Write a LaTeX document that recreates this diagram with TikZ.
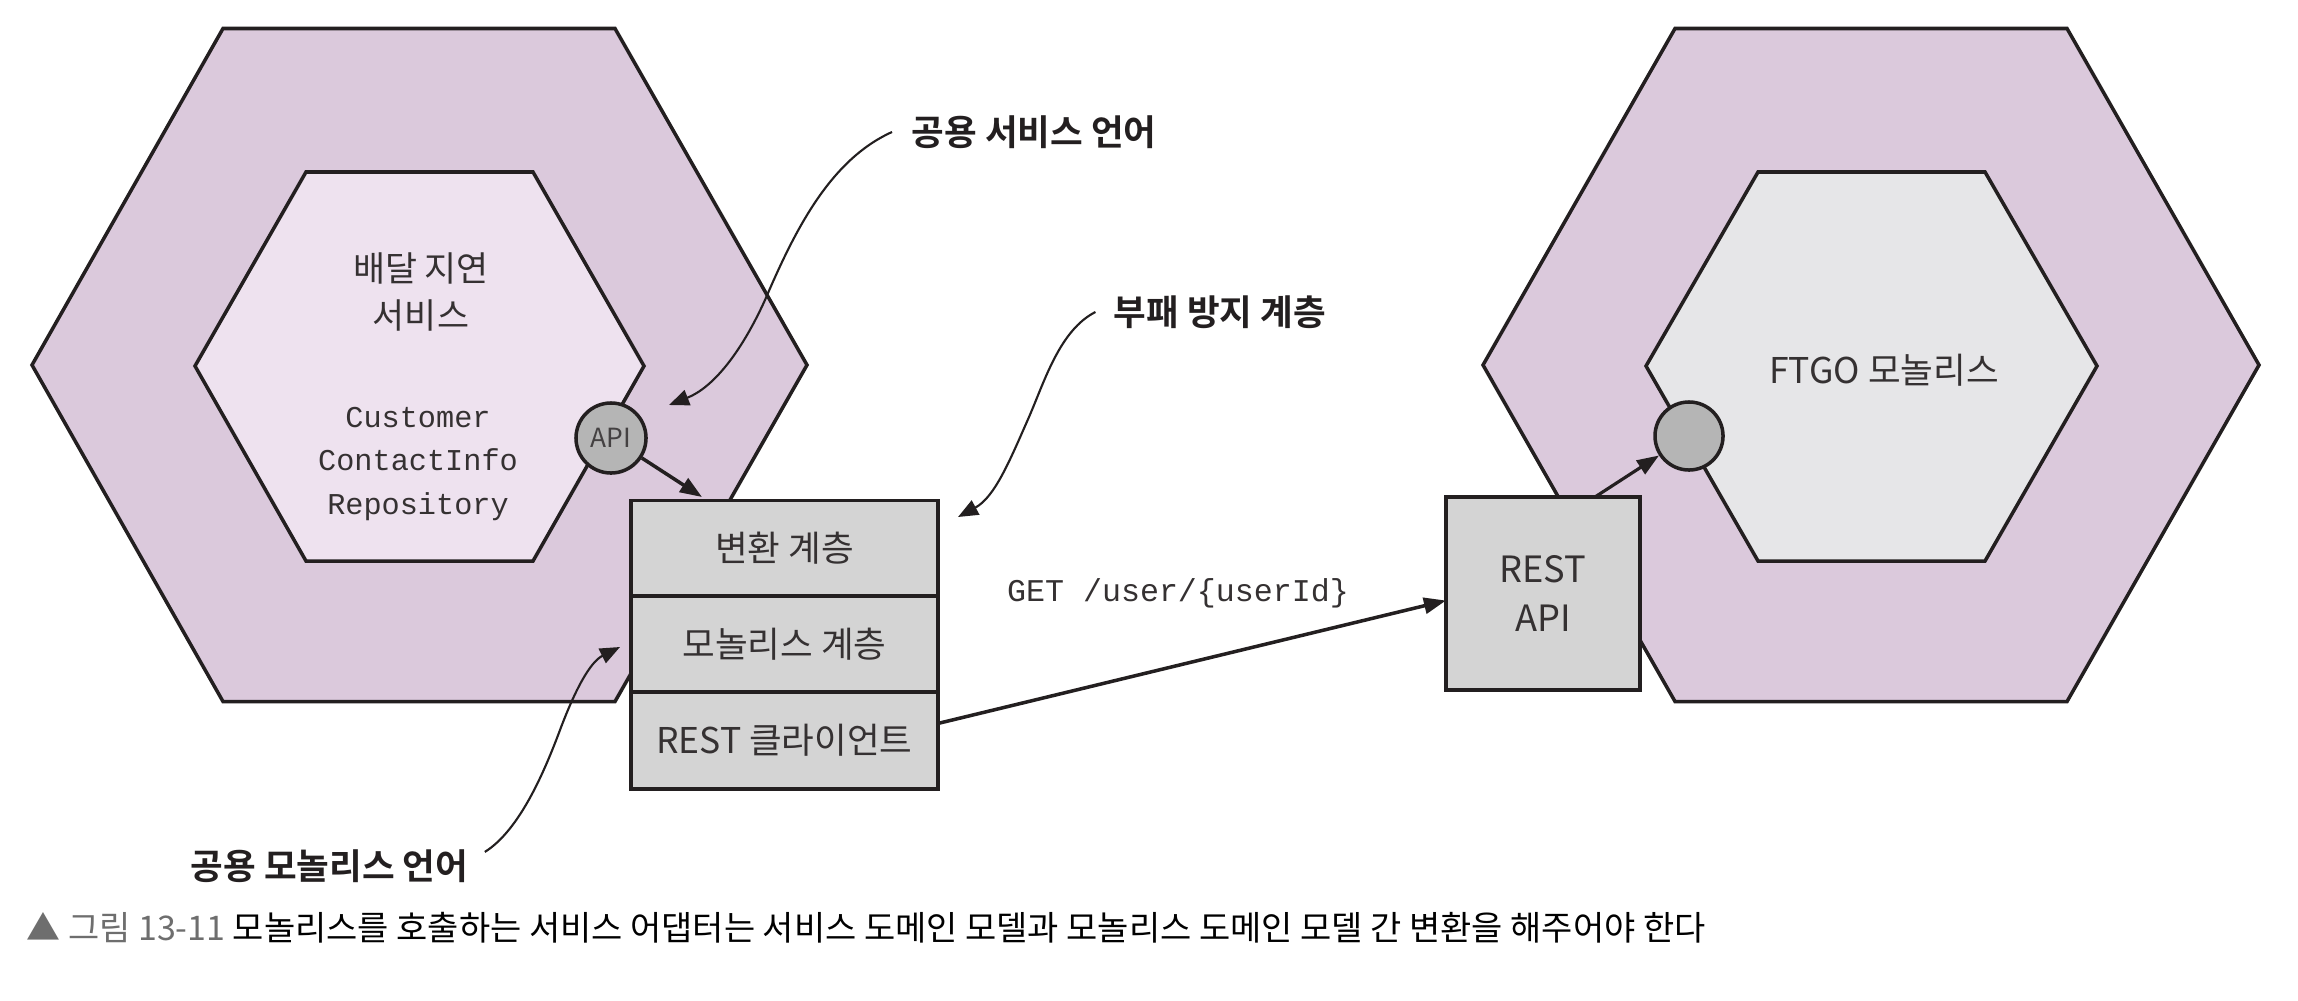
\documentclass[tikz,border=0pt]{standalone}
\usepackage{fontspec}
\setmainfont{Noto Sans CJK KR}
\newfontfamily\krbold{Noto Sans CJK KR Bold}
\newfontfamily\monofnt{Liberation Mono}
\usetikzlibrary{arrows.meta}
\definecolor{hexpurple}{HTML}{DBC9DC}
\definecolor{innerpurple}{HTML}{EEE2EF}
\definecolor{innergray}{HTML}{E6E6E8}
\definecolor{boxgray}{HTML}{D4D4D4}
\definecolor{circgray}{HTML}{B5B5B5}
\definecolor{capgray}{HTML}{6E6E6E}
\definecolor{ink}{HTML}{231F20}
\tikzset{
  hexline/.style={draw=ink, line width=1pt, line join=miter},
  layer/.style={draw=ink, line width=1.1pt, fill=boxgray, outer sep=0pt, minimum width=3.065cm, minimum height=0.955cm, inner sep=0pt, font=\fontsize{10.1}{13.6}\selectfont, text=ink!92},
  portcirc/.style={circle, draw=ink, line width=1pt, fill=circgray, inner sep=0pt},
  callout/.style={font=\krbold\fontsize{10.1}{12}\selectfont, text=ink, inner sep=0pt},
  pointer/.style={draw=ink, line width=0.6pt, -{Triangle[length=0.2cm,width=0.16cm]}},
  flow/.style={draw=ink, line width=1pt, -{Triangle[length=0.22cm,width=0.16cm]}},
  monotext/.style={font=\monofnt\fontsize{8.6}{12.4}\selectfont, text=ink!92, align=center, inner sep=0pt},
  plaintext/.style={font=\fontsize{9.9}{13.4}\selectfont, text=ink!92, align=center, inner sep=0pt}
}
\begin{document}
\begin{tikzpicture}[x=0.01cm, y=-0.01cm]
\useasboundingbox (0,0) rectangle (2298,1000);
\fill[white] (0,0) rectangle (2298,1000);

% left hexagons
\filldraw[hexline, fill=hexpurple] (32,365) -- (223,28.5) -- (615,28.5) -- (807,365) -- (615,701.5) -- (223,701.5) -- cycle;
\filldraw[hexline, fill=innerpurple] (195,366) -- (306,172) -- (533,172) -- (644,366) -- (533,561) -- (306,561) -- cycle;
% right hexagons
\filldraw[hexline, fill=hexpurple] (1483,365) -- (1675,28.5) -- (2067,28.5) -- (2259,365) -- (2067,701.5) -- (1675,701.5) -- cycle;
\filldraw[hexline, fill=innergray] (1646,366) -- (1758,172) -- (1985,172) -- (2097,366) -- (1985,561) -- (1758,561) -- cycle;

% texts inside hexagons
\node[plaintext] (svc) at (421,292) {배달 지연\\서비스};
\node[monotext] (repo) at (418,464) {Customer\\ContactInfo\\Repository};
\node[plaintext, font=\fontsize{10.1}{13.4}\selectfont] (ftgo) at (1884,370) {FTGO 모놀리스};

% ports
\node[portcirc, minimum size=0.70cm, font=\fontsize{7.5}{9}\selectfont, text=ink!85] (api) at (611,438) {API};
\node[portcirc, minimum size=0.68cm] (mport) at (1689,436) {};

% adapter layers
\node[layer, anchor=north west] (l1) at (631,500.5) {변환 계층};
\node[layer, anchor=north west] (l2) at (l1.south west) {모놀리스 계층};
\node[layer, anchor=north west, minimum height=0.975cm] (l3) at (l2.south west) {REST 클라이언트};

% REST API box
\node[layer, minimum width=1.94cm, minimum height=1.93cm, align=center, font=\fontsize{10.3}{13.7}\selectfont] (ra) at (1543,593.5) {REST\\API};

% request label
\node[monotext, font=\monofnt\fontsize{9}{12}\selectfont] (get) at (1178,593) {GET /user/\{userId\}};

% callout labels
\node[callout, anchor=west] (lblsvc) at (911,132) {공용 서비스 언어};
\node[callout, anchor=west] (lblacl) at (1113,312) {부패 방지 계층};
\node[callout, anchor=east] (lblmono) at (469,866) {공용 모놀리스 언어};

% caption
\node[anchor=west, inner sep=0pt, font=\fontsize{9.65}{12}\selectfont] (cap) at (26,928) {\textcolor{capgray}{▲ 그림 13-11} 모놀리스를 호출하는 서비스 어댑터는 서비스 도메인 모델과 모놀리스 도메인 모델 간 변환을 해주어야 한다};

% free ends of callout arrows
\coordinate (tipsvc) at (669,405);
\coordinate (tipacl) at (958,517);
\coordinate (tipmono) at (620,647);
\coordinate (apitip) at (702,497);

% straight connectors
\draw[flow] (api) -- (apitip);
\draw[flow] ([yshift=4.8pt]l3.east) -- ([yshift=-2pt]ra.west);
\draw[flow, line width=0.9pt] ([xshift=0.52cm]ra.north) -- (mport);

% curved callouts
\draw[pointer] ([xshift=-5.4pt]lblsvc.west) .. controls (830,160) and (795,230) .. (765,300) .. controls (740,355) and (712,388) .. (tipsvc);
\draw[pointer] ([xshift=-5pt]lblacl.west) .. controls (1060,330) and (1045,380) .. (1029,417) .. controls (1010,460) and (995,497) .. (tipacl);
\draw[pointer] ([xshift=4.5pt,yshift=4pt]lblmono.east) .. controls (520,830) and (545,770) .. (560,730) .. controls (575,690) and (590,662) .. (tipmono);
\end{tikzpicture}
\end{document}
